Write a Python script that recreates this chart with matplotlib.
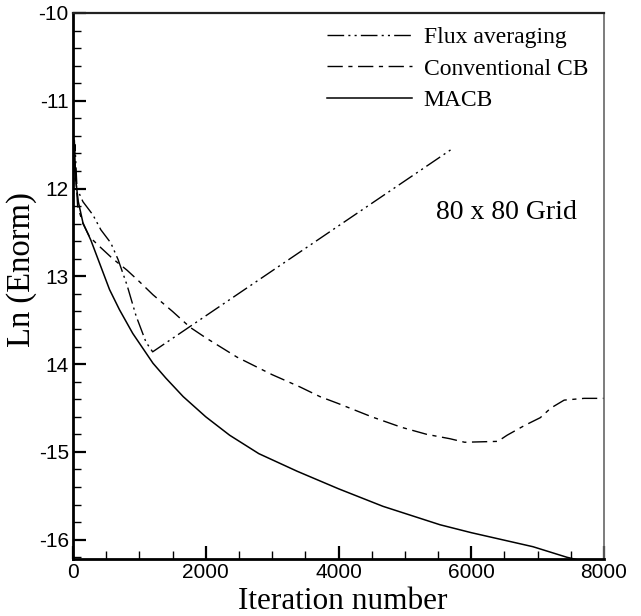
import matplotlib
matplotlib.use("Agg")
import matplotlib.pyplot as plt
from matplotlib.ticker import FixedLocator, MultipleLocator

# ---- data ----
macb_x = [0, 20, 40, 80, 150, 270, 400, 550, 700, 900, 1205, 1400, 1660, 2000,
          2360, 2800, 3376, 4000, 4670, 5530, 6000, 6930, 7440, 8000]
macb_y = [-12.0, -11.45, -11.9, -12.15, -12.39, -12.59, -12.85, -13.15, -13.38,
          -13.65, -13.99, -14.16, -14.37, -14.6, -14.81, -15.02, -15.22, -15.42,
          -15.62, -15.83, -15.92, -16.08, -16.2, -16.3]

cb_x = [0, 30, 70, 150, 250, 400, 600, 814, 1000, 1205, 1500, 1763, 2000, 2470,
        3000, 3420, 3720, 4000, 4500, 4950, 5330, 5680, 5900, 6400, 6540, 6800,
        7040, 7200, 7400, 7700, 8000]
cb_y = [-12.05, -11.7, -12.2, -12.4, -12.55, -12.66, -12.8, -12.93, -13.06,
        -13.21, -13.4, -13.58, -13.7, -13.92, -14.12, -14.26, -14.37, -14.45,
        -14.6, -14.72, -14.8, -14.85, -14.89, -14.88, -14.81, -14.7, -14.61,
        -14.5, -14.41, -14.39, -14.39]

flux_x = [0, 30, 60, 150, 300, 420, 570, 680, 814, 950, 1100, 1200, 5727]
flux_y = [-12.0, -11.5, -12.0, -12.15, -12.3, -12.47, -12.62, -12.81, -13.1,
          -13.45, -13.75, -13.86, -11.54]

labels = ["Flux averaging", "Conventional CB", "MACB"]
ytick_vals = [-10, -11, -12, -13, -14, -15, -16]
ytick_labels = ["-10", "-11", "12", "13", "14", "-15", "-16"]
xtick_vals = [0, 2000, 4000, 6000, 8000]
xtick_labels = ["0", "2000", "4000", "6000", "8000"]

# ---- figure ----
fig = plt.figure(figsize=(6.41, 6.16), dpi=100)
ax = fig.add_axes([73/641, 57/616, 531/641, 546/616])

serif = ["Liberation Serif", "DejaVu Serif"]
sans = ["Liberation Sans", "DejaVu Sans"]

ax.plot(flux_x, flux_y, color="black", lw=1.0,
        linestyle=(0, (12, 3, 1.5, 3, 1.5, 3)), label=labels[0])
ax.plot(cb_x, cb_y, color="black", lw=1.0,
        linestyle=(0, (11, 4, 3, 4)), label=labels[1])
ax.plot(macb_x, macb_y, color="black", lw=1.1, label=labels[2])

ax.set_xlim(0, 8000)
ax.set_ylim(-16.22, -10)

ax.yaxis.set_major_locator(FixedLocator(ytick_vals))
ax.set_yticklabels(ytick_labels, fontfamily=sans, fontsize=15)
ax.yaxis.set_minor_locator(MultipleLocator(0.2))
ax.xaxis.set_major_locator(FixedLocator(xtick_vals))
ax.set_xticklabels(xtick_labels, fontfamily=sans, fontsize=15)
ax.xaxis.set_minor_locator(MultipleLocator(500))

ax.tick_params(which="major", direction="in", length=9.5, width=1.6,
               left=True, bottom=True, top=False, right=False, pad=3)
ax.tick_params(which="minor", direction="in", length=5.5, width=1.0,
               left=True, bottom=True, top=False, right=False)

ax.spines["left"].set_linewidth(2.0)
ax.spines["bottom"].set_linewidth(2.0)
ax.spines["top"].set_linewidth(1.6)
ax.spines["top"].set_color("#222222")
ax.spines["right"].set_linewidth(1.2)
ax.spines["right"].set_color("#666666")

ax.set_xlabel("Iteration number", fontfamily=serif, fontsize=22.5)
ax.xaxis.set_label_coords(0.508, -0.052)
ax.set_ylabel("Ln (Enorm)", fontfamily=serif, fontsize=23.5)
ax.yaxis.set_label_coords(-0.068, 0.53)

ax.text(0.817, 0.634, "80 x 80 Grid", transform=ax.transAxes,
        fontfamily=serif, fontsize=20, ha="center", va="center")

leg = ax.legend(loc="upper right", bbox_to_anchor=(0.97, 0.975), frameon=False,
                prop={"family": serif, "size": 17}, handlelength=3.6,
                handletextpad=0.5, labelspacing=0.42, borderpad=0,
                borderaxespad=0)

fig.savefig("out.png", dpi=100)
